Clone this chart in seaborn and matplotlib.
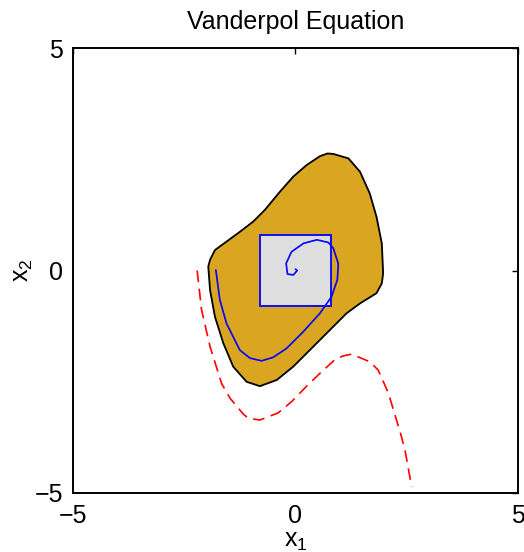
import numpy as np
import pandas as pd
import matplotlib
matplotlib.use("Agg")
import matplotlib.pyplot as plt
import seaborn as sns

# region boundary (gold), clockwise from the top
region_x = [0.85, 1.19, 1.45, 1.67, 1.82, 1.94, 1.97, 1.96, 1.94, 1.82, 1.45, 1.15,
            0.85, 0.40, -0.05, -0.42, -0.80, -1.10, -1.40, -1.62, -1.81, -1.92,
            -1.96, -1.92, -1.81, -1.55, -1.25, -0.95, -0.69, -0.35, -0.05, 0.25,
            0.55, 0.72, 0.85]
region_y = [2.62, 2.52, 2.22, 1.73, 1.21, 0.61, -0.06, -0.14, -0.29, -0.51, -0.74,
            -0.96, -1.26, -1.71, -2.16, -2.46, -2.60, -2.50, -2.16, -1.64, -1.04,
            -0.44, 0.09, 0.24, 0.46, 0.65, 0.87, 1.10, 1.36, 1.77, 2.11, 2.37,
            2.57, 2.63, 2.62]

# initial set (square)
box_x = [-0.8, 0.8, 0.8, -0.8, -0.8]
box_y = [-0.8, -0.8, 0.8, 0.8, -0.8]

# blue trajectory spiralling into the origin
traj_x = [-1.79, -1.70, -1.55, -1.25, -1.02, -0.76, -0.50, -0.20, 0.18, 0.55, 0.81,
          0.94, 0.96, 0.96, 0.85, 0.74, 0.48, 0.18, -0.09, -0.21, -0.18, -0.05,
          0.04, 0.00]
traj_y = [0.01, -0.66, -1.19, -1.79, -1.97, -2.03, -1.95, -1.75, -1.37, -0.96,
          -0.59, -0.21, 0.09, 0.16, 0.50, 0.63, 0.69, 0.61, 0.42, 0.16, -0.08,
          -0.10, 0.00, 0.03]

# red dashed trajectory
red_x = [-2.21, -2.11, -1.92, -1.66, -1.47, -1.17, -1.06, -0.80, -0.39, -0.09, 0.25,
         0.55, 0.89, 1.07, 1.26, 1.67, 1.86, 2.09, 2.20, 2.35, 2.46, 2.61]
red_y = [0.00, -0.89, -1.71, -2.54, -2.87, -3.23, -3.32, -3.36, -3.20, -2.95, -2.60,
         -2.31, -2.00, -1.92, -1.88, -2.05, -2.24, -2.76, -3.13, -3.62, -4.03, -4.86]

ticks = [-5, 0, 5]

sns.set_style("white")
plt.rcParams['font.family'] = ['Liberation Sans', 'DejaVu Sans']
plt.rcParams['mathtext.default'] = 'regular'

fig = plt.figure(figsize=(5.24, 5.52), dpi=100)
ax = fig.add_axes([0.1393, 0.1069, 0.8492, 0.8061])

ax.fill(region_x, region_y, facecolor="#DAA520", edgecolor="black", linewidth=1.3,
        joinstyle="round", zorder=1)
ax.fill(box_x, box_y, facecolor="#DEDEDE", edgecolor="blue", linewidth=1.3, zorder=2)

# estimator=None keeps the points in order (no aggregation over repeated x)
traj = pd.DataFrame({"x": traj_x, "y": traj_y})
sns.lineplot(data=traj, x="x", y="y", sort=False, estimator=None, color="blue",
             linewidth=1.2, ax=ax, zorder=3)

red = pd.DataFrame({"x": red_x, "y": red_y})
sns.lineplot(data=red, x="x", y="y", sort=False, estimator=None, color="red",
             linewidth=1.2, ax=ax, zorder=3)
ax.lines[-1].set_dashes([7, 4])

ax.set_xlim(-5, 5)
ax.set_ylim(-5, 5)
ax.set_xticks(ticks)
ax.set_yticks(ticks)
ax.tick_params(direction="in", length=4, width=1, top=True, right=True, labelsize=18,
               color="black", labelcolor="black")
ax.tick_params(axis="x", pad=8)
ax.tick_params(axis="y", pad=7)
for s in ax.spines.values():
    s.set_color("black")
    s.set_linewidth(1.4)

ax.set_title("Vanderpol Equation", fontsize=18, pad=14, color="black")
ax.set_xlabel("x$_1$", fontsize=18, labelpad=1, color="black")
ax.set_ylabel("x$_2$", fontsize=18, labelpad=0, color="black")

fig.savefig("out.png", dpi=100)
